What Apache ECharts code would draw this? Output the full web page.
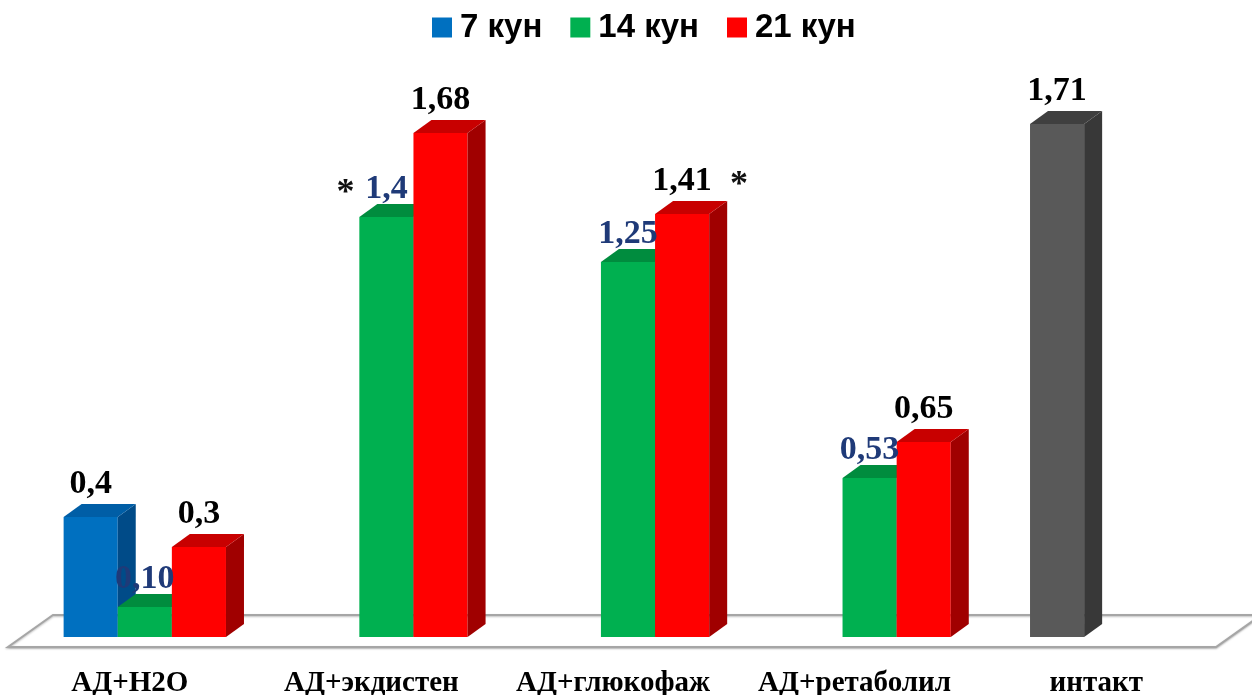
<!DOCTYPE html>
<html lang="uz">
<head>
	<meta charset="UTF-8">
	<title>АД — 7, 14, 21 кун</title>
	<script type="text/javascript" src="https://cdn.jsdelivr.net/npm/echarts@6/dist/echarts.min.js"></script>
	<style type="text/css">
	html, body{margin: 0; padding: 0; background: #fff;}
	#container{width: 1252px; height: 695px;}
	</style>
</head>
<body>
	<div id="container"></div>
	<script type="text/javascript">
		// данные
		var categories = ['АД+H2O', 'АД+экдистен', 'АД+глюкофаж', 'АД+ретаболил', 'интакт'];
		var seriesNames = ['7 кун', '14 кун', '21 кун'];
		var day7  = [0.4, null, null, null, 1.71];
		var day14 = [0.10, 1.4, 1.25, 0.53, null];
		var day21 = [0.3, 1.68, 1.41, 0.65, null];
		var text7  = ['0,4', '', '', '', '1,71'];
		var text14 = ['0,10', '1,4', '1,25', '0,53', ''];
		var text21 = ['0,3', '1,68', '1,41', '0,65', ''];
		var star14 = ['', '*', '', '', ''];
		var star21 = ['', '', '*', '', ''];

		var faces = [
			{front: '#0070c0', top: '#005ea6', side: '#004b88'},
			{front: '#00b050', top: '#008c3e', side: '#007434'},
			{front: '#ff0000', top: '#c80000', side: '#a00000'}
		];
		var grayFaces = {front: '#595959', top: '#3f3f3f', side: '#383838'};
		var DX = 18, DY = 13;
		var serif = '"Liberation Serif", "Times New Roman", serif';

		function toData(values){
			var out = [];
			for (var i = 0; i < values.length; i++) {
				if (values[i] != null) out.push([i, values[i]]);
			}
			return out;
		}

		function renderFloor(params, api){
			var cs = params.coordSys;
			var yb = api.coord([0, 0])[1];
			var l = cs.x, r = cs.x + cs.width;
			return {
				type: 'polygon',
				silent: true,
				shape: {points: [[l - 16, yb + 10], [r - 16, yb + 10], [r + 29, yb - 22], [l + 29, yb - 22]]},
				style: {fill: '#fff', stroke: '#a6a6a6', lineWidth: 2, shadowBlur: 2, shadowOffsetY: 1, shadowColor: 'rgba(0,0,0,0.25)'}
			};
		}

		function makeBar(slot, texts, stars, labelColor, lift, starDx){
			return function(params, api){
				var idx = api.value(0), val = api.value(1);
				var base = api.coord([idx, 0]);
				var top = api.coord([idx, val]);
				var band = api.size([1, 0])[0];
				var w = band * 0.224;
				var x0 = base[0] - 1.5 * w + slot * w, x1 = x0 + w;
				var y0 = base[1], y1 = top[1];
				var f = (slot === 0 && idx === categories.length - 1) ? grayFaces : faces[slot];
				var cx = (x0 + x1) / 2;
				var children = [
					{type: 'rect', shape: {x: x0, y: y1, width: w, height: y0 - y1}, style: {fill: f.front}},
					{type: 'polygon', shape: {points: [[x1, y0], [x1 + DX, y0 - DY], [x1 + DX, y1 - DY], [x1, y1]]}, style: {fill: f.side}},
					{type: 'polygon', shape: {points: [[x0, y1], [x0 + DX, y1 - DY], [x1 + DX, y1 - DY], [x1, y1]]}, style: {fill: f.top}},
					{type: 'text', z2: 100, style: {text: texts[idx], x: cx, y: y1 - DY + lift, align: 'center', verticalAlign: 'bottom', font: 'bold 34px ' + serif, fill: labelColor}}
				];
				if (stars[idx]) {
					children.push({type: 'text', z2: 100, style: {text: stars[idx], x: cx + starDx, y: y1 - DY + lift + 6, align: 'center', verticalAlign: 'bottom', font: 'bold 36px ' + serif, fill: '#111'}});
				}
				return {type: 'group', children: children};
			};
		}

		var none = ['', '', '', '', ''];
		var myChart = echarts.init(document.getElementById('container'));
		var option = {
			animation: false,
			legend: {
				data: seriesNames,
				left: 432,
				top: 11,
				padding: 0,
				icon: 'rect',
				itemWidth: 20,
				itemHeight: 20,
				itemGap: 28,
				textStyle: {fontFamily: '"Liberation Sans", Arial, sans-serif', fontWeight: 'bold', fontSize: 33, color: '#000', padding: [0, 0, 0, 3]}
			},
			grid: {left: 24, right: 20, top: 97, bottom: 58, containLabel: false, outerBoundsMode: 'none'},
			xAxis: {
				type: 'category',
				data: categories,
				axisLine: {show: false},
				axisTick: {show: false},
				axisLabel: {interval: 0, hideOverlap: false, margin: 32, padding: [0, 30, 0, 0], fontFamily: serif, fontWeight: 'bold', fontSize: 29, color: '#000'}
			},
			yAxis: {type: 'value', min: 0, max: 1.8, show: false, splitLine: {show: false}},
			series: [
				{type: 'custom', name: 'floor', silent: true, data: [[0, 0]], encode: {x: 0, y: 1}, renderItem: renderFloor},
				{type: 'custom', name: seriesNames[0], itemStyle: {color: faces[0].front}, data: toData(day7), encode: {x: 0, y: 1}, renderItem: makeBar(0, text7, none, '#000', -3, 0)},
				{type: 'custom', name: seriesNames[1], itemStyle: {color: faces[1].front}, data: toData(day14), encode: {x: 0, y: 1}, renderItem: makeBar(1, text14, star14, '#1f3a78', 2, -41)},
				{type: 'custom', name: seriesNames[2], itemStyle: {color: faces[2].front}, data: toData(day21), encode: {x: 0, y: 1}, renderItem: makeBar(2, text21, star21, '#000', -3, 57)}
			]
		};
		myChart.setOption(option);
	</script>
</body>
</html>
